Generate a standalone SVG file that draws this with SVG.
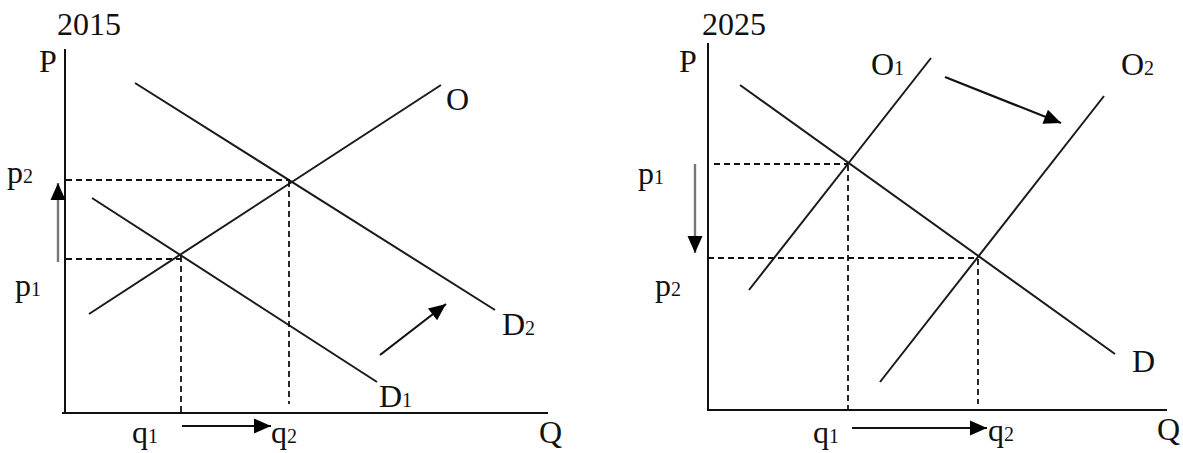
<svg xmlns="http://www.w3.org/2000/svg" width="1183" height="453" viewBox="0 0 1183 453">
<style>
text{font-family:"Liberation Serif","Times New Roman",serif;font-size:32px;fill:#111}
.t{font-size:32px}
.s{font-size:20px}
.ax{stroke:#111;stroke-width:2;fill:none}
.ln{stroke:#1a1a1a;stroke-width:2;fill:none}
.dash{stroke:#111;stroke-width:1.8;stroke-dasharray:6 4;fill:none}
.arr{stroke:#111;stroke-width:2.2;fill:none;marker-end:url(#ah)}
.garr{stroke:#777;stroke-width:2.4;fill:none;marker-end:url(#ah)}
</style>
<defs>
<marker id="ah" markerUnits="userSpaceOnUse" markerWidth="18" markerHeight="16" refX="17" refY="7.5" orient="auto" overflow="visible">
<path d="M0,0 L17,7.5 L0,15 z" fill="#000"/>
</marker>
</defs>
<rect width="1183" height="453" fill="#fff"/>
<g id="left-chart">
  <text class="t" x="57" y="35">2015</text>
  <g id="left-axes">
    <line class="ax" x1="65" y1="49" x2="65" y2="413"/>
    <line class="ax" x1="62" y1="413" x2="548" y2="413"/>
    <text x="39" y="72">P</text>
    <text x="539" y="443">Q</text>
  </g>
  <g id="left-supply-O">
    <line class="ln" x1="89" y1="314" x2="441" y2="85"/>
    <text x="446" y="110">O</text>
  </g>
  <g id="left-demand-D1">
    <line class="ln" x1="92" y1="198" x2="377" y2="382"/>
    <text x="379" y="407">D<tspan class="s">1</tspan></text>
  </g>
  <g id="left-demand-D2">
    <line class="ln" x1="135" y1="83" x2="495" y2="310"/>
    <text x="502" y="335">D<tspan class="s">2</tspan></text>
  </g>
  <g id="left-labels">
    <text x="7" y="183">p<tspan class="s">2</tspan></text>
    <text x="15" y="296">p<tspan class="s">1</tspan></text>
    <text x="132" y="443">q<tspan class="s">1</tspan></text>
    <text x="271" y="443">q<tspan class="s">2</tspan></text>
  </g>
</g>
<g id="right-chart">
  <text class="t" x="702" y="35">2025</text>
  <g id="right-axes">
    <line class="ax" x1="708" y1="43" x2="708" y2="411"/>
    <line class="ax" x1="708" y1="410" x2="1167" y2="410"/>
    <text x="679" y="72">P</text>
    <text x="1157" y="440">Q</text>
  </g>
  <g id="right-demand-D">
    <line class="ln" x1="740" y1="85" x2="1115" y2="354"/>
    <text x="1132" y="372">D</text>
  </g>
  <g id="right-supply-O1">
    <line class="ln" x1="749" y1="290" x2="931" y2="58"/>
    <text x="871" y="75">O<tspan class="s">1</tspan></text>
  </g>
  <g id="right-supply-O2">
    <line class="ln" x1="880" y1="382" x2="1104" y2="96"/>
    <text x="1121" y="75">O<tspan class="s">2</tspan></text>
  </g>
  <g id="right-labels">
    <text x="638" y="184">p<tspan class="s">1</tspan></text>
    <text x="655" y="296">p<tspan class="s">2</tspan></text>
    <text x="813" y="443">q<tspan class="s">1</tspan></text>
    <text x="988" y="441">q<tspan class="s">2</tspan></text>
  </g>
</g>
<g id="connectors">
  <line class="dash" x1="66" y1="180" x2="290" y2="180"/>
  <line class="dash" x1="66" y1="259" x2="181" y2="259"/>
  <line class="dash" x1="181" y1="256" x2="181" y2="412"/>
  <line class="dash" x1="289" y1="181" x2="289" y2="404"/>
  <line class="garr" x1="58" y1="262" x2="58" y2="183"/>
  <line class="arr" x1="182" y1="426" x2="271" y2="426"/>
  <line class="arr" x1="380" y1="355" x2="446" y2="304"/>
  <line class="dash" x1="714" y1="164" x2="848" y2="164"/>
  <line class="dash" x1="708" y1="258" x2="978" y2="258"/>
  <line class="dash" x1="848" y1="165" x2="848" y2="410"/>
  <line class="dash" x1="978" y1="259" x2="978" y2="404"/>
  <line class="garr" x1="695" y1="164" x2="695" y2="253"/>
  <line class="arr" x1="852" y1="428" x2="987" y2="428"/>
  <line class="arr" x1="945" y1="77" x2="1061" y2="123"/>
</g>
</svg>
